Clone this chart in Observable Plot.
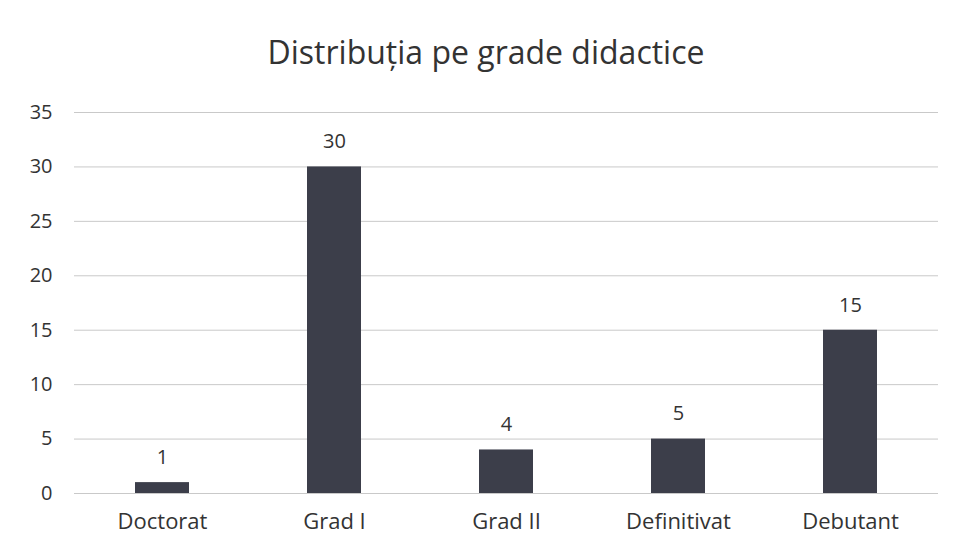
<!DOCTYPE html>
<html>
<head>
<meta charset="utf-8">
<script src="https://cdn.jsdelivr.net/npm/d3@7"></script>
<script src="https://cdn.jsdelivr.net/npm/@observablehq/plot@0.6"></script>
<style>
  body { margin: 0; background: #fff; font-family: "Open Sans", sans-serif; }
  #title { height: 90px; width: 955px; text-align: center; font-size: 32px; line-height: 104px; color: #333; box-sizing: border-box; padding-left: 17px; white-space: nowrap; }
</style>
</head>
<body>
<div id="title">Distribuția pe grade didactice</div>
<div id="chart"></div>
<script>
const categories = ["Doctorat", "Grad I", "Grad II", "Definitivat", "Debutant"];
const values = [1, 30, 4, 5, 15];
const yTicks = [0, 5, 10, 15, 20, 25, 30, 35];

const data = categories.map((c, i) => ({category: c, value: values[i]}));

const chart = Plot.plot({
  width: 955,
  height: 458,
  marginTop: 22,
  marginBottom: 55,
  marginLeft: 74,
  marginRight: 17,
  style: {fontFamily: "'Open Sans', sans-serif", fontSize: "20px", color: "#333", background: "#fff"},
  x: {domain: categories, paddingInner: 0.687, paddingOuter: 0.3435, label: null},
  y: {domain: [0, 35], label: null},
  marks: [
    Plot.ruleY(yTicks, {stroke: "#c9c9c9", strokeWidth: 1}),
    Plot.barY(data, {x: "category", y: "value", fill: "#3c3e4a"}),
    Plot.text(data, {x: "category", y: "value", text: d => String(d.value), dy: -25, fontSize: 20, fill: "#333"}),
    Plot.axisY({ticks: yTicks, tickSize: 0, tickPadding: 22, fontSize: 20, label: null}),
    Plot.axisX({tickSize: 0, tickPadding: 20, fontSize: 22, label: null})
  ]
});
document.getElementById("chart").appendChild(chart);
</script>
</body>
</html>
